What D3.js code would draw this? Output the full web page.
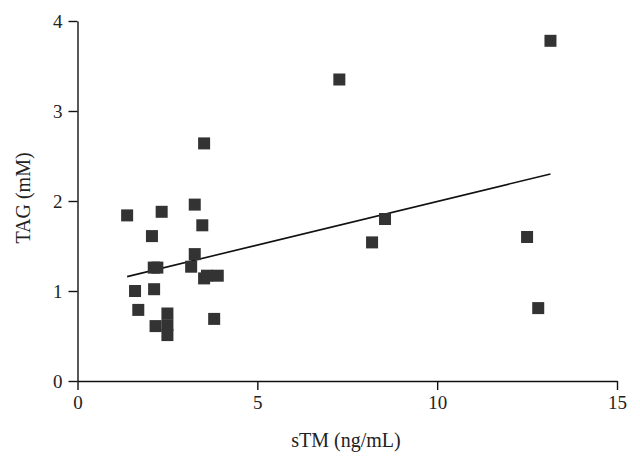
<!DOCTYPE html>
<html>
<head>
<meta charset="utf-8">
<script src="https://cdn.jsdelivr.net/npm/d3@7"></script>
<style>
  html, body { margin: 0; padding: 0; background: #fff; }
  svg { display: block; }
  .axis text { font-family: "Liberation Serif", "DejaVu Serif", serif; font-size: 19px; fill: #222; }
  .axis path, .axis line { stroke: #111; stroke-width: 1.4px; }
  .title { font-family: "Liberation Serif", "DejaVu Serif", serif; font-size: 20px; fill: #222; }
</style>
</head>
<body>
<svg id="chart" width="640" height="468"></svg>
<script>
// Data
const sTM = [1.38, 2.34, 3.26, 3.52, 3.47, 2.07, 3.26, 2.12, 2.22, 3.16, 3.52, 3.60, 3.90, 1.60, 2.13, 1.69, 2.50, 2.50, 2.50, 2.17, 3.80, 7.28, 8.55, 8.19, 12.50, 12.81, 13.15];
const TAG = [1.84, 1.88, 1.96, 2.64, 1.73, 1.61, 1.41, 1.26, 1.26, 1.27, 1.14, 1.17, 1.17, 1.00, 1.02, 0.79, 0.75, 0.62, 0.51, 0.61, 0.69, 3.35, 1.80, 1.54, 1.60, 0.81, 3.78];
// Regression line endpoints
const fitX = [1.38, 13.15];
const fitY = [1.16, 2.30];
const xTicks = [0, 5, 10, 15];
const yTicks = [0, 1, 2, 3, 4];

const svg = d3.select("#chart");
const x = d3.scaleLinear().domain([0, 15]).range([77.5, 617]);
const y = d3.scaleLinear().domain([0, 4]).range([381, 21]);

svg.append("g").attr("class", "axis")
  .attr("transform", `translate(0,${y(0)})`)
  .call(d3.axisBottom(x).tickValues(xTicks).tickSize(9).tickSizeOuter(0).tickPadding(6).tickFormat(d3.format("d")));

svg.append("g").attr("class", "axis")
  .attr("transform", `translate(${x(0)},0)`)
  .call(d3.axisLeft(y).tickValues(yTicks).tickSize(9).tickSizeOuter(0).tickPadding(6).tickFormat(d3.format("d")));

// regression line
const line = d3.line().x(d => x(d[0])).y(d => y(d[1]));
svg.append("path")
  .datum(fitX.map((v, i) => [v, fitY[i]]))
  .attr("d", line)
  .attr("fill", "none")
  .attr("stroke", "#111")
  .attr("stroke-width", 1.6);

// points
const s = 12;
svg.append("g").selectAll("rect")
  .data(sTM.map((v, i) => [v, TAG[i]]))
  .join("rect")
  .attr("x", d => x(d[0]) - s / 2)
  .attr("y", d => y(d[1]) - s / 2)
  .attr("width", s)
  .attr("height", s)
  .attr("fill", "#333");

svg.append("text").attr("class", "title")
  .attr("x", 346).attr("y", 447)
  .attr("text-anchor", "middle")
  .text("sTM (ng/mL)");

svg.append("text").attr("class", "title")
  .attr("transform", "translate(30,198) rotate(-90)")
  .attr("text-anchor", "middle")
  .text("TAG (mM)");
</script>
</body>
</html>
